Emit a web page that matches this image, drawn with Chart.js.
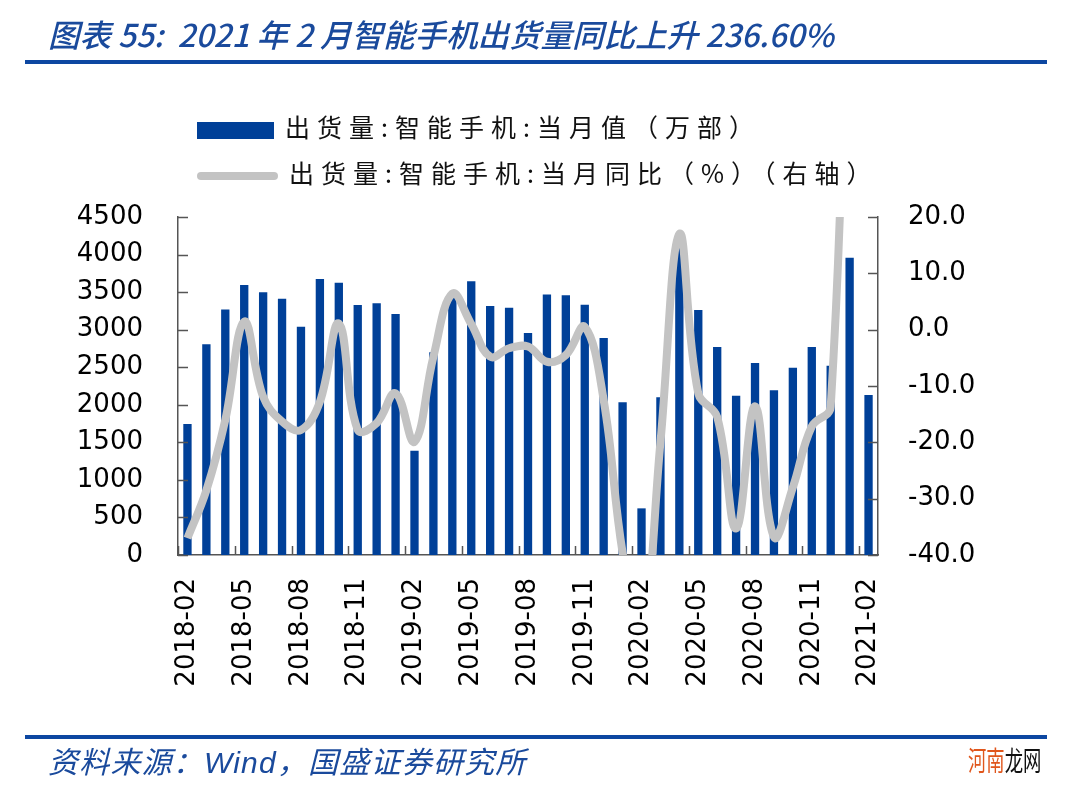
<!DOCTYPE html>
<html>
<head>
<meta charset="utf-8">
<script src="https://cdn.jsdelivr.net/npm/chart.js@4.4.1/dist/chart.umd.min.js"></script>
<style>
  body { margin: 0; background: #fff; }
  #wrap { position: relative; width: 1080px; height: 791px; overflow: hidden; }
  #chartBox { position: absolute; left: 0; top: 0; width: 1080px; height: 791px; }
  .title { position: absolute; left: 48px; top: 10px; font-family: "Liberation Sans Narrow", "Noto Sans CJK SC", sans-serif; font-style: italic; font-weight: 500; font-size: 31.5px; color: #1a4a9c; white-space: nowrap; }
  .rule { position: absolute; left: 25px; width: 1022px; height: 4px; background: #0d47a1; }
  .legend { position: absolute; left: 197px; font-family: "Noto Sans CJK SC", sans-serif; font-size: 25px; letter-spacing: 7px; color: #111; white-space: nowrap; }
  .legend span.sw { display: inline-block; vertical-align: middle; margin-right: 11px; }
  .src { position: absolute; left: 48px; top: 738px; font-family: "Liberation Sans", "Noto Sans CJK SC", sans-serif; font-style: italic; font-size: 30px; letter-spacing: 1.2px; color: #1a4a9c; white-space: nowrap; }
  .wm { position: absolute; left: 968px; top: 740px; font-family: "Noto Sans CJK SC", sans-serif; font-size: 27px; white-space: nowrap; transform: scaleX(0.68); transform-origin: left top; }
</style>
</head>
<body>
<div id="wrap">
  <div id="chartBox"><canvas id="chart"></canvas></div>
  <div class="title">图表 55:&nbsp; 2021 年 2 月智能手机出货量同比上升 236.60%</div>
  <div class="rule" style="top:60px"></div>
  <div class="legend" style="top:108px"><span class="sw" style="width:77px;height:17px;background:#004098"></span>出货量:智能手机:当月值（万部）</div>
  <div class="legend" style="top:154px"><span class="sw" style="width:81px;height:8px;border-radius:4px;background:#c3c3c3"></span>出货量:智能手机:当月同比（%）（右轴）</div>
  <div class="rule" style="top:735px"></div>
  <div class="src">资料来源：Wind，国盛证券研究所</div>
  <div class="wm"><span style="color:#e0561c">河南</span><span style="color:#111">龙网</span></div>
</div>
<script>
// categories
const months = [
    "2018-02", "2018-03", "2018-04", "2018-05", "2018-06", "2018-07", "2018-08", "2018-09", "2018-10", "2018-11", "2018-12",
    "2019-01", "2019-02", "2019-03", "2019-04", "2019-05", "2019-06", "2019-07", "2019-08", "2019-09", "2019-10", "2019-11", "2019-12",
    "2020-01", "2020-02", "2020-03", "2020-04", "2020-05", "2020-06", "2020-07", "2020-08", "2020-09", "2020-10", "2020-11", "2020-12",
    "2021-01", "2021-02"
];

// 出货量:智能手机:当月值（万部）
const shipments = [
    1745, 2805, 3267, 3595, 3497, 3413, 3040, 3675, 3626, 3329, 3351,
    3209, 1389, 2700, 3450, 3644, 3315, 3293, 2956, 3467, 3458, 3333, 2890,
    2033, 621, 2100, 4170, 3262, 2770, 2121, 2556, 2193, 2494, 2770, 2521,
    3959, 2130
];

// 出货量:智能手机:当月同比（%）
const yoy = [
    -37, -28.5, -16, 1.4, -11.9, -16.3, -17.8, -12.8, 1.1, -17.8, -16.6,
    -11.3, -19.9, -4.8, 6.4, 1, -4.8, -3.3, -3, -5.7, -4.5, 0.5, -12.5,
    -39.6, -54.7, -20, 17, -11.3, -15.5, -35.3, -13.6, -36.8, -28, -17.2, -13.7,
    95.5, 236.6
];

const leftTicks = [0, 4500, 500];
const rightTicks = [-40, 20, 10];

const tickFont = { family: "DejaVu Sans", size: 26 };

// small inward tick marks like the original
const innerTicks = {
    id: "innerTicks",
    afterDraw(chart) {
        const ctx = chart.ctx;
        const x = chart.scales.x, y = chart.scales.y, y1 = chart.scales.y1;
        const step = x.getPixelForValue(1) - x.getPixelForValue(0);
        ctx.save();
        ctx.strokeStyle = "#555";
        ctx.lineWidth = 1.5;
        ctx.beginPath();
        months.forEach(function (m, i) {
            if (i % 3 !== 0) return;
            const px = Math.round(x.getPixelForValue(i) - step / 2) + 0.5;
            ctx.moveTo(px, x.top);
            ctx.lineTo(px, x.top - 9);
        });
        y.ticks.forEach(function (t) {
            const py = Math.round(y.getPixelForValue(t.value)) + 0.5;
            ctx.moveTo(y.right, py);
            ctx.lineTo(y.right + 10, py);
        });
        y1.ticks.forEach(function (t) {
            const py = Math.round(y1.getPixelForValue(t.value)) + 0.5;
            ctx.moveTo(y1.left, py);
            ctx.lineTo(y1.left - 10, py);
        });
        ctx.stroke();
        ctx.restore();
    }
};

new Chart(document.getElementById("chart"), {
    type: "bar",
    data: {
        labels: months,
        datasets: [
            {
                type: "line",
                label: "出货量:智能手机:当月同比（%）（右轴）",
                data: yoy,
                yAxisID: "y1",
                borderColor: "#c3c3c3",
                borderWidth: 8,
                pointRadius: 0,
                tension: 0.4,
                order: 0
            },
            {
                label: "出货量:智能手机:当月值（万部）",
                data: shipments,
                yAxisID: "y",
                backgroundColor: "#004098",
                categoryPercentage: 1,
                barPercentage: 0.44,
                order: 1
            }
        ]
    },
    options: {
        responsive: true,
        maintainAspectRatio: false,
        animation: false,
        layout: { padding: { top: 217, left: 0, right: 0, bottom: 0 } },
        plugins: {
            legend: { display: false },
            tooltip: { enabled: false }
        },
        scales: {
            x: {
                grid: { display: false, drawTicks: false },
                border: { display: true, color: "#555", width: 1.5 },
                ticks: {
                    color: "#000",
                    font: tickFont,
                    autoSkip: false,
                    minRotation: 90,
                    maxRotation: 90,
                    padding: 23,
                    callback: function (v, i) { return i % 3 === 0 ? months[i] : null; }
                },
                afterFit: function (s) { s.height = 236; }
            },
            y: {
                position: "left",
                min: leftTicks[0],
                max: leftTicks[1],
                grid: { display: false, drawTicks: false },
                border: { display: true, color: "#555", width: 1.5 },
                ticks: {
                    stepSize: leftTicks[2],
                    color: "#000",
                    font: tickFont,
                    padding: 35,
                    callback: function (v) { return String(v); }
                },
                afterFit: function (s) { s.width = 178; }
            },
            y1: {
                position: "right",
                min: rightTicks[0],
                max: rightTicks[1],
                grid: { display: false, drawTicks: false },
                border: { display: true, color: "#555", width: 1.5 },
                ticks: {
                    stepSize: rightTicks[2],
                    color: "#000",
                    font: tickFont,
                    padding: 30,
                    callback: function (v) { return v.toFixed(1); }
                },
                afterFit: function (s) { s.width = 202; }
            }
        }
    },
    plugins: [innerTicks]
});
</script>
</body>
</html>
